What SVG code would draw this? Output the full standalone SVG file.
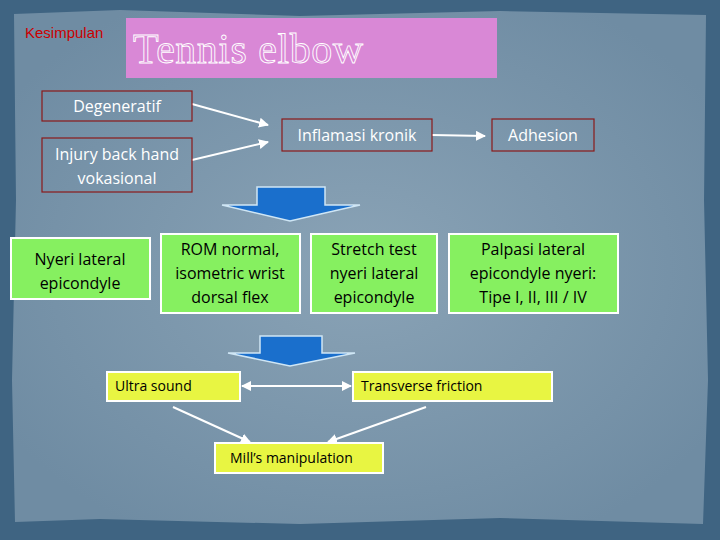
<svg xmlns="http://www.w3.org/2000/svg" width="720" height="540" viewBox="0 0 720 540">
<defs>
<style>
.t{font-family:"Open Sans","DejaVu Sans",sans-serif;font-size:16px;fill:#fff;text-anchor:middle}
.tb{font-family:"Open Sans","DejaVu Sans",sans-serif;font-size:16px;fill:#000;text-anchor:middle}
.ts{font-family:"Open Sans","DejaVu Sans",sans-serif;font-size:14px;fill:#000}
.red{fill:none;stroke:#8b1a1a;stroke-width:1.2}
.grn{fill:#86f060;stroke:#fff;stroke-width:2}
.yel{fill:#e8f542;stroke:#fff;stroke-width:2}
.ln{stroke:#fff;stroke-width:2;fill:none}
.blk{fill:#1a6fcc;stroke:#cfe6f5;stroke-width:1.5}
</style>
<marker id="ah" viewBox="0 0 10 10" refX="9" refY="5" markerWidth="5" markerHeight="5" orient="auto-start-reverse"><path d="M0,0L10,5L0,10z" fill="#fff"/></marker>
<radialGradient id="bg" cx="50%" cy="50%" r="60%"><stop offset="0" stop-color="#8aa3b6"/><stop offset="1" stop-color="#6f8ca3"/></radialGradient>
</defs>
<rect width="720" height="540" fill="#3f6482"/>
<path d="M14,14 L120,10 L300,16 L500,11 L706,15 L704,200 L708,380 L703,524 L500,518 L300,524 L100,519 L15,522 L12,380 L16,200 Z" fill="url(#bg)"/>
<g id="title">
<rect x="126" y="18" width="371" height="60" fill="#d988d6"/>
<text x="133" y="63" font-family="Liberation Serif,serif" font-size="42" fill="none" stroke="#fff" stroke-width="0.9" textLength="230">Tennis elbow</text>
<text x="25" y="38" font-family="Liberation Sans,Arial,sans-serif" font-size="15" fill="#cc0000">Kesimpulan</text>
</g>
<g id="connectors">
<line class="ln" x1="192" y1="104" x2="268" y2="125" marker-end="url(#ah)"/>
<line class="ln" x1="192" y1="160" x2="268" y2="142" marker-end="url(#ah)"/>
<line class="ln" x1="432" y1="135" x2="485" y2="136" marker-end="url(#ah)"/>
<line class="ln" x1="242" y1="386" x2="351" y2="386" marker-start="url(#ah)" marker-end="url(#ah)"/>
<line class="ln" x1="173" y1="407" x2="250" y2="442" marker-end="url(#ah)"/>
<line class="ln" x1="426" y1="407" x2="328" y2="442" marker-end="url(#ah)"/>
<path class="blk" d="M257,187H325V205H360L290,221L222,205H257Z"/>
<path class="blk" d="M260,336H322V353H355L290,366L228,353H260Z"/>
</g>
<g id="degeneratif"><rect class="red" x="42" y="91" width="150" height="30"/><text class="t" x="117" y="112">Degeneratif</text></g>
<g id="injury"><rect class="red" x="42" y="138" width="150" height="54"/><text class="t" x="117" y="160">Injury back hand</text><text class="t" x="117" y="184">vokasional</text></g>
<g id="inflamasi"><rect class="red" x="282" y="119" width="150" height="32"/><text class="t" x="357" y="141">Inflamasi kronik</text></g>
<g id="adhesion"><rect class="red" x="492" y="119" width="102" height="32"/><text class="t" x="543" y="141">Adhesion</text></g>
<g id="nyeri"><rect class="grn" x="11" y="238" width="139" height="61"/><text class="tb" x="80" y="265">Nyeri lateral</text><text class="tb" x="80" y="289">epicondyle</text></g>
<g id="rom"><rect class="grn" x="161" y="234" width="139" height="79"/><text class="tb" x="230" y="255">ROM normal,</text><text class="tb" x="230" y="279">isometric wrist</text><text class="tb" x="230" y="303">dorsal flex</text></g>
<g id="stretch"><rect class="grn" x="311" y="234" width="126" height="79"/><text class="tb" x="374" y="255">Stretch test</text><text class="tb" x="374" y="279">nyeri lateral</text><text class="tb" x="374" y="303">epicondyle</text></g>
<g id="palpasi"><rect class="grn" x="449" y="234" width="169" height="79"/><text class="tb" x="533" y="255">Palpasi lateral</text><text class="tb" x="533" y="279">epicondyle nyeri:</text><text class="tb" x="533" y="303">Tipe I, II, III / IV</text></g>
<g id="ultra"><rect class="yel" x="107" y="372" width="133" height="29"/><text class="ts" x="115" y="391">Ultra sound</text></g>
<g id="transverse"><rect class="yel" x="353" y="372" width="199" height="29"/><text class="ts" x="361" y="391">Transverse friction</text></g>
<g id="mills"><rect class="yel" x="215" y="443" width="168" height="30"/><text class="ts" x="230" y="463">Mill’s manipulation</text></g>
</svg>
